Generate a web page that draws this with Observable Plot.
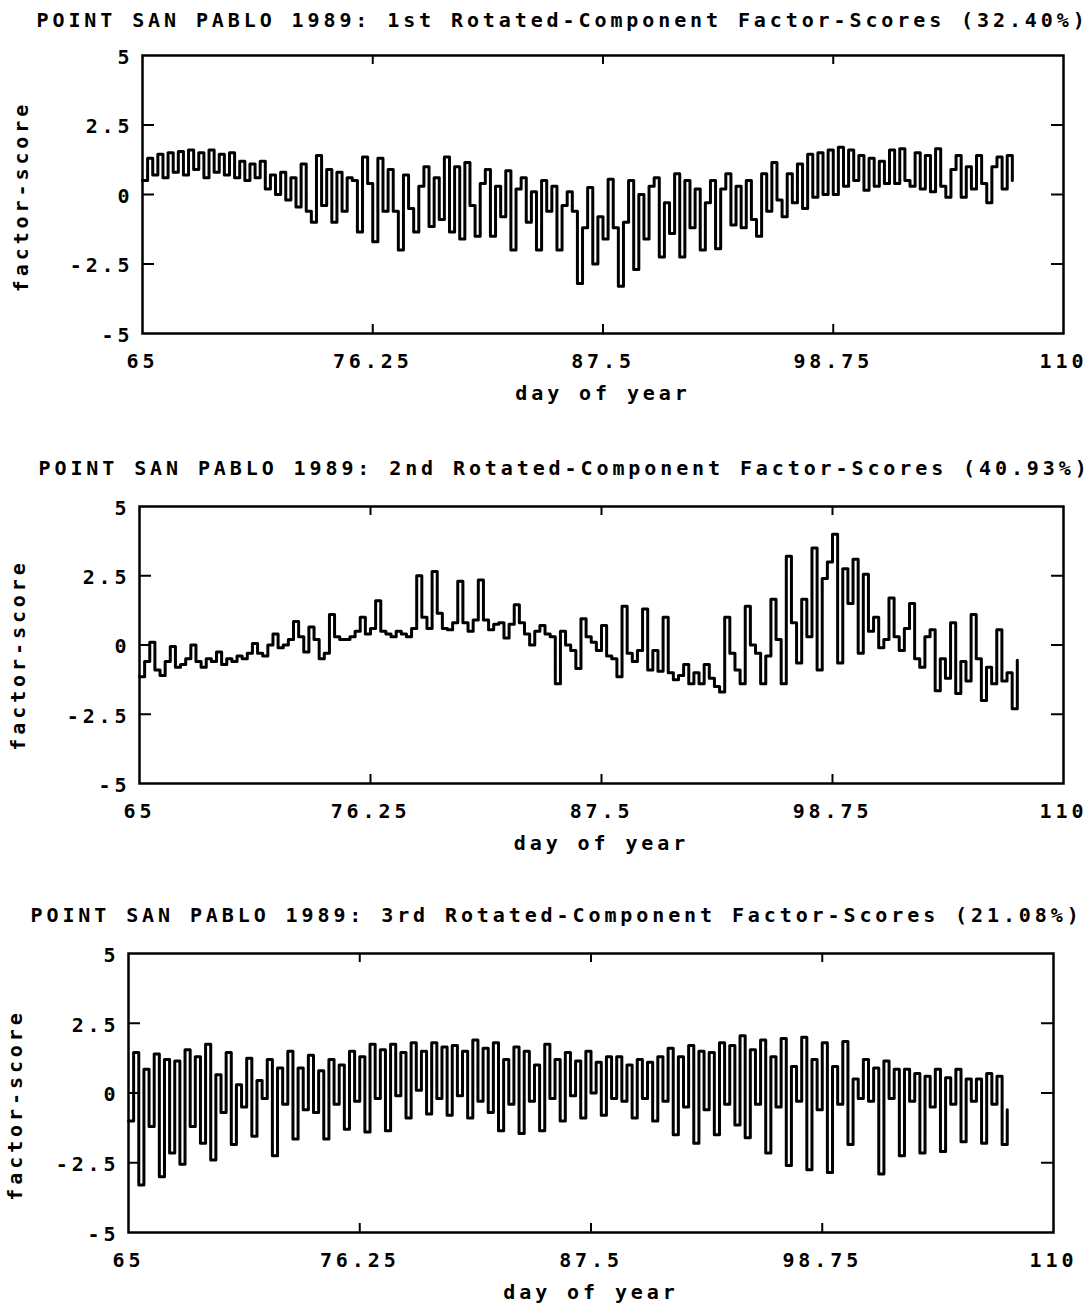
<!DOCTYPE html>
<html><head><meta charset="utf-8">
<script src="https://cdn.jsdelivr.net/npm/d3@7"></script>
<script src="https://cdn.jsdelivr.net/npm/@observablehq/plot@0.6"></script>
<style>
body{margin:0;background:#fff;}
#wrap{position:relative;width:1090px;height:1307px;background:#fff;overflow:hidden;}
.panel{position:absolute;left:0;}
</style></head><body><div id="wrap"></div>
<script>
// ---- data ----
const START_DAY = 65;
const STEP_DAY = 0.25;
const xTicks = [65, 76.25, 87.5, 98.75, 110];
const yTicks = [5, 2.5, 0, -2.5, -5];
const innerYTicks = [2.5, 0, -2.5];
const innerXTicks = [76.25, 87.5, 98.75];
const titles = [
  "POINT SAN PABLO 1989: 1st Rotated-Component Factor-Scores (32.40%)",
  "POINT SAN PABLO 1989: 2nd Rotated-Component Factor-Scores (40.93%)",
  "POINT SAN PABLO 1989: 3rd Rotated-Component Factor-Scores (21.08%)"
];
const xLabel = "day of year";
const yLabel = "factor-score";

// 1st component, every 0.25 day from day 65
const score1 = [
  0.5, 1.3, 0.7, 1.45,
  0.6, 1.5, 0.8, 1.55,
  0.7, 1.6, 0.9, 1.5,
  0.6, 1.6, 0.8, 1.45,
  0.7, 1.5, 0.6, 1.2,
  0.5, 1.1, 0.6, 1.2,
  0.2, 0.7, 0.0, 0.8,
  -0.2, 0.6, -0.45, 1.1,
  -0.6, -1.0, 1.4, -0.4,
  0.9, -1.0, 0.8, -0.6,
  0.6, 0.5, -1.35, 1.35,
  0.4, -1.7, 1.3, -0.6,
  0.9, -0.6, -2.0, 0.7,
  -0.5, -1.35, 0.3, 1.0,
  -1.15, 0.6, -0.9, 1.35,
  -1.35, 1.0, -1.6, 1.15,
  -0.4, -1.5, 0.4, 0.9,
  -1.5, 0.3, -0.8, 0.85,
  -2.0, 0.2, 0.6, -1.0,
  0.1, -2.0, 0.5, -0.6,
  0.3, -2.0, -0.4, 0.1,
  -0.6, -3.2, -1.2, 0.25,
  -2.5, -0.8, -1.6, 0.55,
  -1.2, -3.3, -1.0, 0.5,
  -2.7, 0.0, -1.6, 0.3,
  0.6, -2.25, -0.3, -1.4,
  0.75, -2.25, 0.5, -1.2,
  0.2, -2.0, -0.3, 0.5,
  -1.95, 0.2, 0.75, -1.1,
  0.3, -1.2, 0.5, -0.9,
  -1.5, 0.75, -0.6, 1.15,
  -0.2, -0.8, 0.75, -0.3,
  1.1, -0.5, 1.45, -0.1,
  1.5, 0.0, 1.6, 0.0,
  1.7, 0.3, 1.6, 0.5,
  1.4, 0.15, 1.3, 0.3,
  1.2, 0.4, 1.6, 0.4,
  1.65, 0.5, 0.3, 1.5,
  0.2, 1.4, 0.1, 1.65,
  0.3, -0.1, 0.9, 1.4,
  -0.1, 1.0, 0.2, 1.4,
  0.4, -0.3, 1.0, 1.35,
  0.2, 1.4, 0.5
];

// 2nd component, every 0.25 day from day 65
const score2 = [
  -1.15, -0.6, 0.1, -0.9,
  -1.1, -0.6, -0.05, -0.8,
  -0.7, -0.5, 0.0, -0.6,
  -0.8, -0.5, -0.6, -0.25,
  -0.7, -0.5, -0.6, -0.4,
  -0.5, -0.3, 0.05, -0.3,
  -0.4, 0.0, 0.4, -0.1,
  0.0, 0.2, 0.85, 0.3,
  -0.25, 0.65, 0.2, -0.5,
  -0.3, 1.1, 0.3, 0.2,
  0.2, 0.3, 0.5, 1.0,
  0.4, 0.6, 1.6, 0.5,
  0.4, 0.3, 0.5, 0.4,
  0.3, 0.6, 2.5, 1.0,
  0.6, 2.65, 1.15, 0.6,
  0.55, 0.8, 2.3, 0.8,
  0.5, 0.9, 2.35, 0.9,
  0.55, 0.75, 0.8, 0.25,
  0.75, 1.45, 0.8, 0.4,
  0.0, 0.5, 0.7, 0.4,
  0.3, -1.4, 0.5, 0.0,
  -0.2, -0.85, 0.95, 0.3,
  0.1, -0.2, 0.7, -0.4,
  -0.5, -1.15, 1.4, -0.3,
  -0.6, -0.2, 1.3, -0.9,
  -0.2, -0.95, 1.0, -1.0,
  -1.25, -1.1, -0.7, -1.4,
  -1.0, -1.4, -0.7, -1.2,
  -1.5, -1.7, 1.0, -0.3,
  -0.9, -1.4, 1.4, 0.0,
  -0.3, -1.4, -0.4, 1.65,
  0.2, -1.4, 3.2, 0.8,
  -0.65, 1.65, 0.3, 3.5,
  -0.9, 2.4, 3.0, 4.0,
  -0.65, 2.75, 1.5, 3.1,
  -0.3, 2.55, 0.5, 1.0,
  -0.1, 0.2, 1.7, 0.3,
  -0.2, 0.6, 1.5, -0.5,
  -0.8, 0.3, 0.55, -1.65,
  -0.5, -1.2, 0.8, -1.75,
  -0.6, -1.3, 1.1, -0.5,
  -2.0, -0.8, -1.4, 0.55,
  -1.3, -1.0, -2.3, -0.55
];

// 3rd component, every 0.25 day from day 65
const score3 = [
  -1.0, 1.45, -3.3, 0.85,
  -1.2, 1.4, -3.0, 1.2,
  -2.15, 1.15, -2.55, 1.55,
  -1.2, 1.3, -1.8, 1.75,
  -2.4, 0.65, -0.7, 1.45,
  -1.85, 0.3, -0.5, 1.25,
  -1.55, 0.45, -0.2, 1.2,
  -2.25, 0.9, -0.4, 1.5,
  -1.65, 0.9, -0.6, 1.35,
  -0.7, 0.8, -1.65, 1.2,
  -0.4, 1.0, -1.3, 1.5,
  -0.3, 1.3, -1.4, 1.75,
  -0.2, 1.55, -1.35, 1.75,
  -0.1, 1.45, -0.9, 1.8,
  0.1, 1.5, -0.75, 1.8,
  -0.2, 1.65, -0.8, 1.7,
  -0.1, 1.5, -0.9, 1.9,
  -0.3, 1.6, -0.7, 1.8,
  -1.35, 1.2, -0.4, 1.65,
  -1.45, 1.5, -0.3, 1.0,
  -1.35, 1.75, -0.2, 1.2,
  -1.0, 1.45, -0.1, 1.15,
  -0.9, 1.5, 0.0, 1.1,
  -0.8, 1.3, -0.2, 1.3,
  -0.3, 1.0, -0.9, 1.2,
  -0.2, 1.1, -1.0, 1.3,
  -0.3, 1.6, -1.5, 1.3,
  -0.5, 1.7, -1.8, 1.5,
  -0.6, 1.45, -1.5, 1.8,
  -0.4, 1.7, -1.15, 2.05,
  -1.6, 1.55, -0.4, 1.9,
  -2.15, 1.3, -0.5, 1.95,
  -2.6, 0.95, -0.3, 2.0,
  -2.75, 1.2, -0.6, 1.8,
  -2.85, 0.95, -0.4, 1.85,
  -1.85, 0.5, -0.2, 1.2,
  -0.3, 0.9, -2.9, 1.15,
  -0.2, 0.85, -2.25, 0.85,
  -0.3, 0.7, -2.15, 0.6,
  -0.5, 0.85, -2.1, 0.55,
  -0.4, 0.85, -1.75, 0.5,
  -0.3, 0.5, -1.8, 0.7,
  -0.4, 0.6, -1.85, -0.6
];

const series = [score1, score2, score3];

// ---- layout (page pixels) ----
const layout = [
  {svgTop: 0,   left: 142, right: 1063, frameTop: 55,  frameBottom: 333, titleX: 36, titleDy: -35, yLabelX: 21, yLabelDy: 2},
  {svgTop: 450, left: 139, right: 1063, frameTop: 506, frameBottom: 783, titleX: 38, titleDy: -38, yLabelX: 18, yLabelDy: 10},
  {svgTop: 898, left: 128, right: 1053, frameTop: 953, frameBottom: 1232, titleX: 30, titleDy: -38, yLabelX: 15, yLabelDy: 12}
];

const FONT = "'DejaVu Sans Mono', 'Liberation Mono', monospace";
const wrap = document.getElementById("wrap");

layout.forEach((L, k) => {
  const values = series[k];
  const rows = values.map((v, i) => ({day: START_DAY + STEP_DAY * i, score: v}));
  const W = 1090;
  const mt = L.frameTop - L.svgTop;
  const plotH = L.frameBottom - L.frameTop;
  const mb = 80;
  const H = mt + plotH + mb;
  const plotW = L.right - L.left;

  const chart = Plot.plot({
    width: W,
    height: H,
    marginLeft: L.left,
    marginRight: W - L.right,
    marginTop: mt,
    marginBottom: mb,
    x: {domain: [65, 110]},
    y: {domain: [-5, 5]},
    style: {fontFamily: FONT, fontSize: "20px", fontWeight: "bold", letterSpacing: "3.9px", color: "black", background: "white"},
    marks: [
      Plot.axisX(xTicks, {tickSize: 0, tickPadding: 20, tickFormat: d => String(d), label: null}),
      Plot.axisY(yTicks, {tickSize: 0, tickPadding: 9, dy: 2, tickFormat: d => String(d), label: null}),
      Plot.tickY(innerYTicks, {y: d => d, insetRight: plotW - 12, stroke: "black", strokeWidth: 2}),
      Plot.tickY(innerYTicks, {y: d => d, insetLeft: plotW - 12, stroke: "black", strokeWidth: 2}),
      Plot.tickX(innerXTicks, {x: d => d, insetTop: plotH - 9, stroke: "black", strokeWidth: 2}),
      Plot.tickX(innerXTicks, {x: d => d, insetBottom: plotH - 9, stroke: "black", strokeWidth: 2}),
      Plot.line(rows, {x: "day", y: "score", curve: "step-after", stroke: "black", strokeWidth: 3}),
      Plot.frame({stroke: "black", strokeWidth: 2.5}),
      Plot.text([titles[k]], {text: d => d, frameAnchor: "top-left", dx: L.titleX - L.left, dy: L.titleDy, textAnchor: "start", lineAnchor: "middle", ariaLabel: "title"}),
      Plot.text([xLabel], {text: d => d, frameAnchor: "bottom", dy: 60, textAnchor: "middle", lineAnchor: "middle", ariaLabel: "xlabel"}),
      Plot.text([yLabel], {text: d => d, frameAnchor: "left", dx: L.yLabelX - L.left, dy: L.yLabelDy, rotate: -90, textAnchor: "middle", lineAnchor: "middle", ariaLabel: "ylabel"})
    ]
  });
  d3.select(chart).select('g[aria-label="ylabel"]').style("letter-spacing", "2.4px");
  const div = document.createElement("div");
  div.className = "panel";
  div.style.top = L.svgTop + "px";
  div.appendChild(chart);
  wrap.appendChild(div);
});
</script>
</body></html>
